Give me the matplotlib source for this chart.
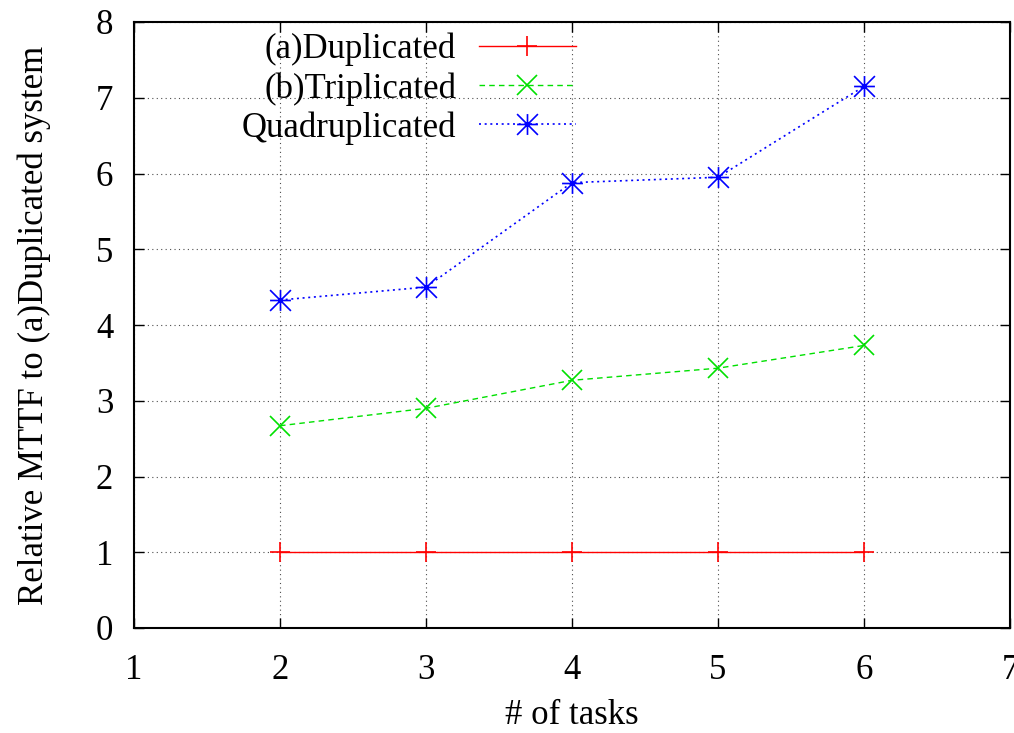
import matplotlib
matplotlib.use("Agg")
import matplotlib.pyplot as plt
from matplotlib.path import Path

tasks = [2, 3, 4, 5, 6]
duplicated = [1, 1, 1, 1, 1]
triplicated = [2.67, 2.90, 3.27, 3.43, 3.73]
quadruplicated = [4.33, 4.50, 5.88, 5.95, 7.15]
labels = ["(a)Duplicated", "(b)Triplicated", "Quadruplicated"]
x_ticks = [1, 2, 3, 4, 5, 6, 7]
y_ticks = [0, 1, 2, 3, 4, 5, 6, 7, 8]

plt.rcParams['font.family'] = ['Liberation Serif', 'DejaVu Serif']
FS = 25

# gnuplot-style asterisk (plus + cross)
star = Path([(0, -1), (0, 1), (-1, 0), (1, 0), (-1, -1), (1, 1), (-1, 1), (1, -1)],
            [Path.MOVETO, Path.LINETO] * 4)

fig = plt.figure(figsize=(10.14, 7.33), dpi=100)
ax = fig.add_axes([134 / 1014, 1 - 628 / 733, (1010 - 134) / 1014, (628 - 22) / 733])

ax.plot(tasks, duplicated, color='#ff0000', lw=1.0, marker='+', ms=15, mew=1.2,
        label=labels[0])
ax.plot(tasks, triplicated, color='#00e000', lw=1.0, ls=(0, (4, 3)), marker='x', ms=14,
        mew=1.2, label=labels[1])
ax.plot(tasks, quadruplicated, color='#0000ff', lw=1.2, ls=(0, (1.2, 2.2)), marker=star,
        ms=15, mew=1.2, label=labels[2])

ax.set_xlim(1, 7)
ax.set_ylim(0, 8)
ax.set_xticks(x_ticks)
ax.set_yticks(y_ticks)
ax.grid(True, color='0.3', ls=(0, (1, 3)), lw=0.8)
ax.set_axisbelow(True)
for s in ax.spines.values():
    s.set_linewidth(1.5)
ax.tick_params(direction='in', length=7, width=1, top=True, right=True,
               labelsize=FS)
ax.tick_params(axis='x', pad=19)
ax.tick_params(axis='y', pad=15)

ax.set_xlabel("# of tasks", fontsize=FS, labelpad=8)
ax.set_ylabel("Relative MTTF to (a)Duplicated system", fontsize=FS, labelpad=32)

leg = fig.legend(loc='upper right', bbox_to_anchor=(576 / 1014, 1 - 33 / 733),
                 frameon=False, markerfirst=False, fontsize=FS, handlelength=2.8,
                 handletextpad=0.65, labelspacing=0.16, borderpad=0, borderaxespad=0)

fig.savefig("out.png", dpi=100)
